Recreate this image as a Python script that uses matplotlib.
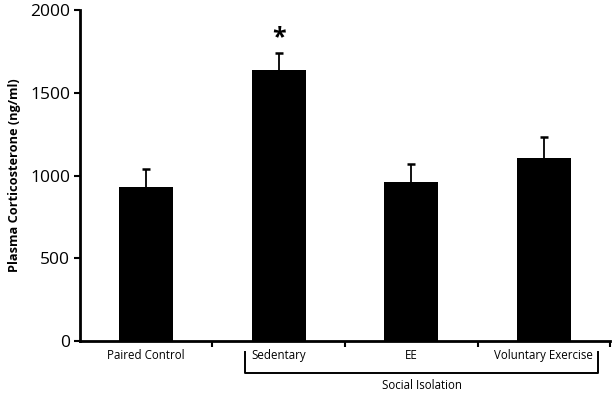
import matplotlib
matplotlib.use("Agg")
import matplotlib.pyplot as plt
from matplotlib.transforms import blended_transform_factory

categories = ["Paired Control", "Sedentary", "EE", "Voluntary Exercise"]
values = [932, 1637, 961, 1106]
errors = [107, 105, 110, 128]
yticks = [0, 500, 1000, 1500, 2000]

plt.rcParams['font.family'] = ['Open Sans', 'DejaVu Sans']

fig = plt.figure(figsize=(6.15, 3.94), dpi=100)
ax = fig.add_axes([0.130, 0.1345, 0.862, 0.84])

x = list(range(len(categories)))
ax.bar(x, values, width=0.41, color='black', zorder=2)
tops = [v + e for v, e in zip(values, errors)]
ax.vlines(x, values, tops, color='black', lw=1.3, zorder=1)
ax.plot(x, tops, linestyle='none', marker='_', markersize=6, markeredgewidth=1.8, color='black', zorder=1)

ax.set_xlim(-0.5, 3.5)
ax.set_ylim(0, 2000)
ax.set_yticks(yticks)
ax.set_yticklabels([str(v) for v in yticks], fontsize=12.5)
ax.set_xticks([0.5, 1.5, 2.5, 3.5])
ax.set_xticklabels([])
ax.tick_params(axis='x', direction='out', length=4, width=1.5)
ax.tick_params(axis='y', direction='out', length=4, width=1.5, pad=3)
for s in ['top', 'right']:
    ax.spines[s].set_visible(False)
for s in ['left', 'bottom']:
    ax.spines[s].set_linewidth(2)

ax.set_ylabel("Plasma Corticosterone (ng/ml)", fontsize=9.2, fontweight='bold', labelpad=7)

trans = blended_transform_factory(ax.transData, ax.transAxes)
for xi, lab in zip(x, categories):
    ax.text(xi, -0.045, lab, transform=trans, ha='center', va='center', fontsize=8.3)

# Significance marker
ax.text(1, values[1] + errors[1] + 90, "*", ha='center', va='center', fontsize=18, fontweight='bold')

# Social isolation bracket
xl, xr = 0.745, 3.41
ax.plot([xl, xl, xr, xr], [-0.033, -0.096, -0.096, -0.033], color='black', lw=1.4,
        transform=trans, clip_on=False)
ax.text((xl + xr) / 2, -0.135, "Social Isolation", transform=trans, ha='center', va='center', fontsize=8.3)

fig.savefig("out.png", dpi=100)
